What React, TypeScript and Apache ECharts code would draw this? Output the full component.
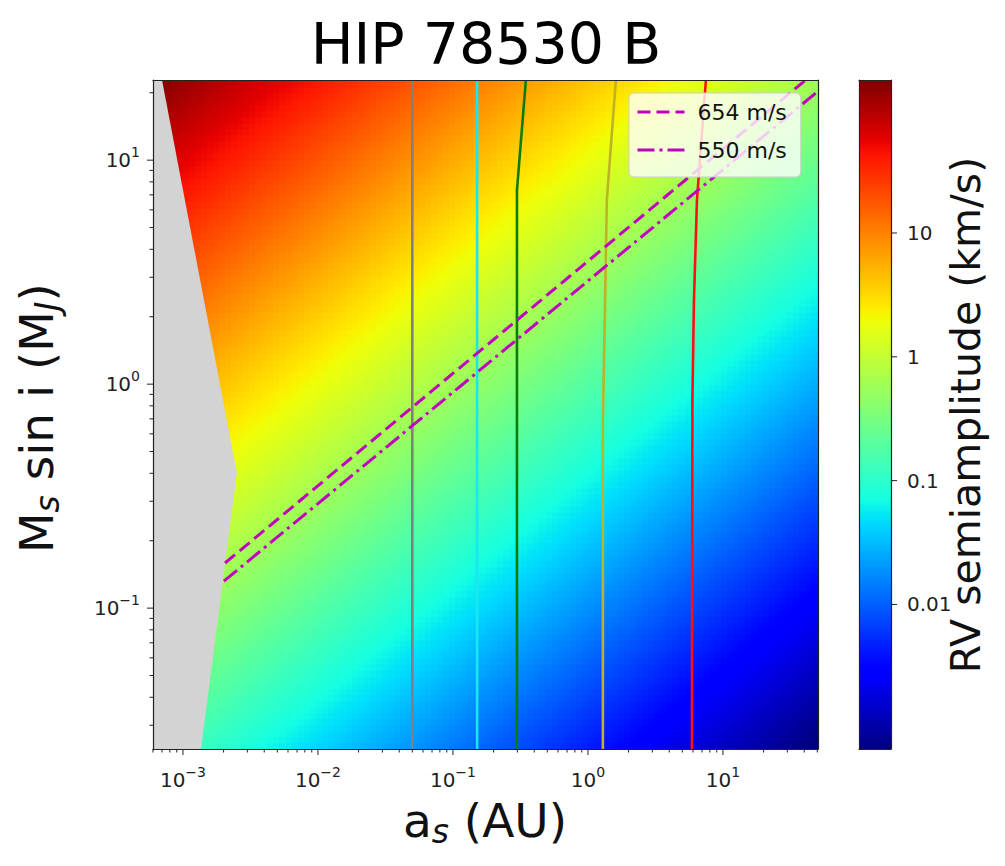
import React, { useEffect, useRef } from 'react';
import * as echarts from 'echarts';

// ---------- ranges and values ----------
const TITLE = 'HIP 78530 B';
const A_RANGE = [6.0e-4, 50.6]; // a_s (AU)
const M_RANGE = [0.0235, 22.8]; // M_s sin i (M_J)
const K_RANGE = [6.8e-4, 172]; // colour range of the RV semiamplitude (km/s)
const K_AT_1MJ_1AU = 0.186; // km/s, RV semiamplitude of a 1 M_J companion at 1 AU

const X_MAJOR_TICKS = [0.001, 0.01, 0.1, 1, 10];
const Y_MAJOR_TICKS = [0.1, 1, 10];
const CB_TICKS = [10, 1, 0.1, 0.01];
const CB_TICK_LABELS = ['10', '1', '0.1', '0.01'];
const MINOR_MULTIPLES = [2, 3, 4, 5, 6, 7, 8, 9];

// grey excluded region (polygon vertices)
const GREY_A = [6.0e-4, 7.0e-4, 2.51e-3, 1.36e-3, 6.0e-4];
const GREY_M = [22.8, 22.8, 0.401, 0.0235, 0.0235];

// near-vertical curves
const CURVE_NAMES = ['curve gray', 'curve cyan', 'curve green', 'curve olive', 'curve red'];
const CURVE_COLORS = ['#808080', '#19e6ee', '#0a7d0a', '#bcb426', '#ff1010'];
const CURVE_A = [
  [0.05, 0.05],
  [0.151, 0.151],
  [0.298, 0.298, 0.347],
  [1.29, 1.29, 1.34, 1.38, 1.61],
  [5.89, 5.94, 6.1, 6.42, 7.48],
];
const CURVE_M = [
  [0.0235, 22.8],
  [0.0235, 22.8],
  [0.0235, 7.35, 22.8],
  [0.0235, 0.69, 2.37, 6.63, 22.8],
  [0.0235, 0.85, 2.37, 6.63, 22.8],
];

// constant-RV lines
const RV_LINE_NAMES = ['654 m/s', '550 m/s'];
const RV_LINE_A = [[0.00205, 41.0], [0.00201, 50.6]];
const RV_LINE_M = [[0.159, 22.8], [0.132, 20.3]];
const RV_LINE_DASH = [[13, 6], [17, 5, 3, 5]];

// ---------- helpers ----------
const FONT = 'DejaVu Sans';
const JET_R = [[0, 0], [0.35, 0], [0.66, 1], [0.89, 1], [1, 0.5]];
const JET_G = [[0, 0], [0.125, 0], [0.375, 1], [0.64, 1], [0.91, 0], [1, 0]];
const JET_B = [[0, 0.5], [0.11, 1], [0.34, 1], [0.65, 0], [1, 0]];
function interp(pts: number[][], t: number) {
  for (let i = 1; i < pts.length; i++) {
    if (t <= pts[i][0]) {
      const [x0, y0] = pts[i - 1];
      const [x1, y1] = pts[i];
      return y0 + ((y1 - y0) * (t - x0)) / (x1 - x0);
    }
  }
  return pts[pts.length - 1][1];
}
const JET_COLORS = Array.from({ length: 129 }, (_, i) => {
  const t = i / 128;
  const c = [JET_R, JET_G, JET_B].map((p) => Math.round(255 * interp(p, t)));
  return `rgb(${c.join(',')})`;
});

const lg = Math.log10;
function minorTicks(range: number[]) {
  const out: number[] = [];
  for (let d = Math.floor(lg(range[0])); d <= Math.ceil(lg(range[1])); d++) {
    for (const k of MINOR_MULTIPLES) {
      const v = k * Math.pow(10, d);
      if (v >= range[0] * 0.999 && v <= range[1] * 1.001) out.push(v);
    }
  }
  return out;
}
const sameLog = (a: number, b: number) => Math.abs(lg(a) - lg(b)) < 1e-6;
const supText = (v: number) => {
  const e = Math.round(lg(v));
  return e < 0 ? '\u2212' + Math.abs(e) : String(e);
};

// heatmap cells (log spaced sampling grid)
const NX = 110;
const NY = 110;
function buildCells() {
  const cells: number[][] = [];
  const la0 = lg(A_RANGE[0]), la1 = lg(A_RANGE[1]);
  const lm0 = lg(M_RANGE[0]), lm1 = lg(M_RANGE[1]);
  for (let i = 0; i < NX; i++) {
    const a0 = Math.pow(10, la0 + ((la1 - la0) * i) / NX);
    const a1 = Math.pow(10, la0 + ((la1 - la0) * (i + 1)) / NX);
    const am = Math.pow(10, la0 + ((la1 - la0) * (i + 0.5)) / NX);
    for (let j = 0; j < NY; j++) {
      const m0 = Math.pow(10, lm0 + ((lm1 - lm0) * j) / NY);
      const m1 = Math.pow(10, lm0 + ((lm1 - lm0) * (j + 1)) / NY);
      const mm = Math.pow(10, lm0 + ((lm1 - lm0) * (j + 0.5)) / NY);
      const k = (K_AT_1MJ_1AU * mm) / Math.sqrt(am);
      cells.push([a0, a1, m0, m1, lg(k)]);
    }
  }
  return cells;
}
function buildColorbarCells() {
  const cells: number[][] = [];
  const n = 200;
  const l0 = lg(K_RANGE[0]), l1 = lg(K_RANGE[1]);
  for (let i = 0; i < n; i++) {
    const k0 = Math.pow(10, l0 + ((l1 - l0) * i) / n);
    const k1 = Math.pow(10, l0 + ((l1 - l0) * (i + 1)) / n);
    cells.push([0, 1, k0, k1, l0 + ((l1 - l0) * (i + 0.5)) / n]);
  }
  return cells;
}

const cellRender = (params: any, api: any) => {
  const p0 = api.coord([api.value(0), api.value(2)]);
  const p1 = api.coord([api.value(1), api.value(3)]);
  const x = Math.floor(p0[0]);
  const y = Math.floor(p1[1]);
  return {
    type: 'rect',
    shape: { x, y, width: Math.ceil(p1[0]) - x + 0.5, height: Math.ceil(p0[1]) - y + 0.5 },
    style: { fill: api.visual('color') },
    silent: true,
  };
};

const tickRender = (dir: 'down' | 'left' | 'right') => (params: any, api: any) => {
  const p = api.coord([api.value(0), api.value(1)]);
  const len = api.value(2);
  let x2 = p[0], y2 = p[1];
  if (dir === 'down') y2 += len;
  if (dir === 'left') x2 -= len;
  if (dir === 'right') x2 += len;
  return {
    type: 'line',
    shape: { x1: p[0], y1: p[1], x2, y2 },
    style: { stroke: '#222', lineWidth: 1 },
    silent: true,
  };
};

const tickRich = {
  b: { fontSize: 20, fontFamily: FONT, color: '#222', lineHeight: 30, verticalAlign: 'middle' },
  s: { fontSize: 14, fontFamily: FONT, color: '#222', lineHeight: 14, verticalAlign: 'top' },
};
const labelRich = {
  m: { fontSize: 47, fontFamily: FONT, color: '#111', lineHeight: 56, verticalAlign: 'middle' },
  s: { fontSize: 33, fontFamily: FONT, color: '#111', lineHeight: 30, verticalAlign: 'bottom', fontStyle: 'italic' },
};

function buildOption() {
  const lineAxis = (extra: any) => ({
    axisLine: { show: true, onZero: false, lineStyle: { color: '#222', width: 1.2 } },
    axisTick: { show: false },
    splitLine: { show: false },
    axisLabel: { show: false },
    z: 10,
    ...extra,
  });

  const series: any[] = [];
  series.push({
    type: 'custom', name: 'rv field', xAxisIndex: 0, yAxisIndex: 0,
    data: buildCells(), encode: { x: [0, 1], y: [2, 3] }, renderItem: cellRender,
    clip: true, silent: true, z: 1, progressive: 0,
  });
  series.push({
    type: 'custom', name: 'colorbar', xAxisIndex: 2, yAxisIndex: 2,
    data: buildColorbarCells(), encode: { x: [0, 1], y: [2, 3] }, renderItem: cellRender,
    clip: true, silent: true, z: 1, progressive: 0,
  });
  series.push({
    type: 'custom', name: 'excluded', xAxisIndex: 0, yAxisIndex: 0,
    data: [[GREY_A[0], GREY_M[0]]], encode: { x: 0, y: 1 },
    renderItem: (params: any, api: any) => ({
      type: 'polygon',
      shape: { points: GREY_A.map((a, i) => api.coord([a, GREY_M[i]])) },
      style: { fill: '#d3d3d3' },
      silent: true,
    }),
    clip: true, silent: true, z: 2,
  });
  CURVE_NAMES.forEach((name, i) => {
    series.push({
      type: 'line', name, xAxisIndex: 0, yAxisIndex: 0,
      data: CURVE_A[i].map((a, j) => [a, CURVE_M[i][j]]),
      symbol: 'none', showSymbol: false, silent: true, z: 3,
      lineStyle: { color: CURVE_COLORS[i], width: 2.6 },
    });
  });
  RV_LINE_NAMES.forEach((name, i) => {
    series.push({
      type: 'line', name, xAxisIndex: 0, yAxisIndex: 0,
      data: RV_LINE_A[i].map((a, j) => [a, RV_LINE_M[i][j]]),
      symbol: 'none', showSymbol: false, silent: true, z: 3,
      color: '#bf00bf',
      lineStyle: { color: '#bf00bf', width: 3, type: RV_LINE_DASH[i] },
    });
  });
  // ticks
  const xTicks = [
    ...X_MAJOR_TICKS.map((v) => [v, M_RANGE[0], 6]),
    ...minorTicks(A_RANGE).map((v) => [v, M_RANGE[0], 3.5]),
  ];
  const yTicks = [
    ...Y_MAJOR_TICKS.map((v) => [A_RANGE[0], v, 6]),
    ...minorTicks(M_RANGE).map((v) => [A_RANGE[0], v, 3.5]),
  ];
  const cbTicks = CB_TICKS.map((v) => [1, v, 6]);
  series.push({
    type: 'custom', name: 'x ticks', xAxisIndex: 0, yAxisIndex: 0, data: xTicks,
    encode: { x: 0, y: 1 }, renderItem: tickRender('down'), clip: false, silent: true, z: 10,
  });
  series.push({
    type: 'custom', name: 'y ticks', xAxisIndex: 0, yAxisIndex: 0, data: yTicks,
    encode: { x: 0, y: 1 }, renderItem: tickRender('left'), clip: false, silent: true, z: 10,
  });
  series.push({
    type: 'custom', name: 'cb ticks', xAxisIndex: 2, yAxisIndex: 2, data: cbTicks,
    encode: { x: 0, y: 1 }, renderItem: tickRender('right'), clip: false, silent: true, z: 10,
  });

  return {
    animation: false,
    backgroundColor: '#ffffff',
    grid: [
      { left: 153, top: 80, width: 665, height: 669 },
      { left: 859, top: 80, width: 32, height: 669 },
    ],
    xAxis: [
      lineAxis({
        gridIndex: 0, type: 'log', min: A_RANGE[0], max: A_RANGE[1], position: 'bottom',
        axisLabel: {
          show: true, margin: 16, rich: tickRich,
          formatter: (v: number) =>
            X_MAJOR_TICKS.some((t) => sameLog(t, v)) ? `{b|10}{s|${supText(v)}}` : '',
        },
      }),
      lineAxis({ gridIndex: 0, type: 'log', min: A_RANGE[0], max: A_RANGE[1], position: 'top' }),
      lineAxis({ gridIndex: 1, type: 'value', min: 0, max: 1, position: 'bottom' }),
      lineAxis({ gridIndex: 1, type: 'value', min: 0, max: 1, position: 'top' }),
    ],
    yAxis: [
      lineAxis({
        gridIndex: 0, type: 'log', min: M_RANGE[0], max: M_RANGE[1], position: 'left',
        axisLabel: {
          show: true, margin: 13, rich: tickRich,
          formatter: (v: number) =>
            Y_MAJOR_TICKS.some((t) => sameLog(t, v)) ? `{b|10}{s|${supText(v)}}` : '',
        },
      }),
      lineAxis({ gridIndex: 0, type: 'log', min: M_RANGE[0], max: M_RANGE[1], position: 'right' }),
      lineAxis({
        gridIndex: 1, type: 'log', min: K_RANGE[0], max: K_RANGE[1], position: 'right',
        axisLabel: {
          show: true, margin: 16, fontSize: 20, fontFamily: FONT, color: '#222',
          formatter: (v: number) => {
            const i = CB_TICKS.findIndex((t) => sameLog(t, v));
            return i >= 0 ? CB_TICK_LABELS[i] : '';
          },
        },
      }),
      lineAxis({ gridIndex: 1, type: 'log', min: K_RANGE[0], max: K_RANGE[1], position: 'left' }),
    ],
    visualMap: {
      type: 'continuous', show: false, seriesIndex: [0, 1], dimension: 4,
      min: lg(K_RANGE[0]), max: lg(K_RANGE[1]),
      inRange: { color: JET_COLORS },
    },
    legend: {
      data: RV_LINE_NAMES.map((name, i) => ({
        name,
        itemStyle: { opacity: 0 },
        lineStyle: { color: '#bf00bf', width: 3, type: RV_LINE_DASH[i] },
      })),
      orient: 'vertical', left: 629, top: 93,
      itemWidth: 47, itemHeight: 14, itemGap: 12,
      itemStyle: { opacity: 0 },
      backgroundColor: 'rgba(255,255,255,0.8)', borderColor: '#cccccc', borderWidth: 1, borderRadius: 5,
      padding: [6, 14, 14, 7],
      selectedMode: false,
      textStyle: { fontSize: 22, fontFamily: FONT, color: '#111', lineHeight: 26, padding: [0, 0, 0, 8] },
      z: 6,
    },
    graphic: [
      {
        type: 'text', x: 486, y: 44,
        style: {
          text: TITLE, fontSize: 57, fontFamily: FONT, fill: '#000',
          align: 'center', verticalAlign: 'middle', textAlign: 'center', textVerticalAlign: 'middle',
        },
      },
      {
        type: 'text', x: 485, y: 820,
        style: {
          text: '{m|a}{s|s}{m| (AU)}', rich: labelRich, fill: '#111',
          align: 'center', verticalAlign: 'middle', textAlign: 'center', textVerticalAlign: 'middle',
        },
      },
      {
        type: 'text', x: 36, y: 418, rotation: Math.PI / 2,
        style: {
          text: '{m|M}{s|s}{m| sin i (M}{s|J}{m|)}', rich: labelRich, fill: '#111',
          align: 'center', verticalAlign: 'middle', textAlign: 'center', textVerticalAlign: 'middle',
        },
      },
      {
        type: 'text', x: 966, y: 415, rotation: Math.PI / 2,
        style: {
          text: 'RV semiamplitude (km/s)', fontSize: 41, fontFamily: FONT, fill: '#111',
          align: 'center', verticalAlign: 'middle', textAlign: 'center', textVerticalAlign: 'middle',
        },
      },
    ],
    series,
  };
}

export default function App() {
  const ref = useRef<HTMLDivElement>(null);
  useEffect(() => {
    if (!ref.current) return;
    const chart = echarts.init(ref.current, undefined, { renderer: 'svg' });
    chart.setOption(buildOption() as any);
    return () => chart.dispose();
  }, []);
  return (
    <div
      ref={ref}
      style={{ position: 'fixed', left: 0, top: 0, width: 1005, height: 866, background: '#fff' }}
    />
  );
}
